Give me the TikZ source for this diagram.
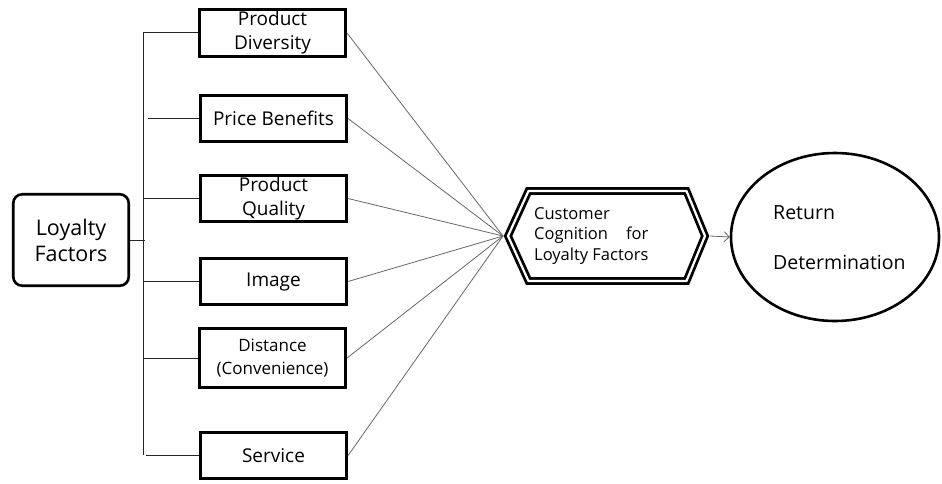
\documentclass[tikz,border=0pt]{standalone}
\usepackage{fontspec}
\setmainfont{Open Sans}
\usetikzlibrary{shapes.geometric,arrows.meta}
\begin{document}
\begin{tikzpicture}[x=1pt,y=-1pt,
  factor/.style={draw,rectangle,line width=2.6pt,minimum width=146.5pt,minimum height=46.5pt,inner sep=0pt,align=center,font=\fontsize{19}{24}\selectfont},
  tree/.style={line width=1pt,black!85},
  fan/.style={line width=0.8pt,black!60},
  lbl/.style={inner sep=0pt,anchor=west}]
\useasboundingbox (0,0) rectangle (942,483);
% left node
\node[draw,rectangle,rounded corners=9pt,line width=2.6pt,minimum width=115.5pt,minimum height=91.5pt,align=center,font=\fontsize{21.5}{26}\selectfont] (lf) at (71,240) {Loyalty\\Factors};
% factor boxes
\node[factor] (pd) at (272.5,33) {Product\\Diversity};
\node[factor] (pb) at (273.5,118.5) {Price Benefits};
\node[factor] (pq) at (273.5,198.5) {Product\\Quality};
\node[factor] (im) at (273.5,281.5) {Image};
\node[factor,minimum height=59.5pt,font=\fontsize{17}{23}\selectfont] (di) at (272.5,358) {Distance\\(Convenience)};
\node[factor] (sv) at (273.5,455.5) {Service};
% tree
\coordinate (tx) at (143,0);
\coordinate (tx2) at (148,0);
\coordinate (tx3) at (146,0);
\coordinate (ttop) at (143,32);
\coordinate (tbot) at (143,455);
\draw[tree] (ttop) -- (tbot);
\draw[tree] (ttop) -- (ttop -| pd.west);
\draw[tree] (pb.west -| tx2) -- (pb.west);
\draw[tree] (pq.west -| tx) -- (pq.west);
\draw[tree] (im.west -| tx) -- (im.west);
\draw[tree] (di.west -| tx) -- (di.west);
\draw[tree] (sv.west -| tx3) -- (sv.west);
\draw[tree] (lf.east) -- ([xshift=2pt]lf.east -| tx);
% hexagon
\coordinate (hexL) at (503,236);
\coordinate (hexR) at (710,236);
\draw[line width=2.8pt,double=white,double distance=2.2pt,line join=miter]
  (508,236) -- (528.5,191) -- (686.5,191) -- (705,236) -- (686.5,281) -- (528.5,281) -- cycle;
\node[lbl,font=\fontsize{16.5}{20.5}\selectfont,align=left] (cog) at (534,236) {Customer\\Cognition\hspace{18pt}for\\Loyalty Factors};
% fan
\foreach \b in {pd,pb,pq,im,di,sv}{\draw[fan] (\b.east) -- (hexL);}
% ellipse
\node[draw,ellipse,line width=2.6pt,minimum width=208pt,minimum height=168pt] (ret) at (835,237) {};
\node[lbl,font=\fontsize{19.5}{24}\selectfont] (rt) at (773,213) {Return};
\node[lbl,font=\fontsize{19.5}{24}\selectfont] (dt) at (773,262) {Determination};
\draw[fan,-{Straight Barb[length=5pt,width=10pt]}] (hexR) -- (ret.west);
\end{tikzpicture}
\end{document}
